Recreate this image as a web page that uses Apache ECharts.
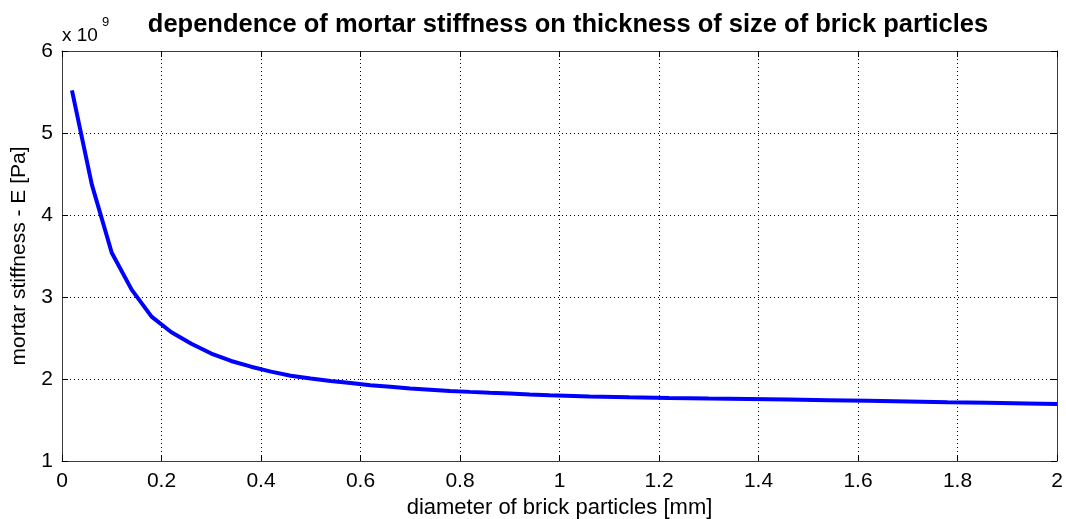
<!DOCTYPE html>
<html>
<head>
<meta charset="utf-8">
<script src="https://cdn.jsdelivr.net/npm/echarts@6/dist/echarts.min.js"></script>
<style>
  html, body { margin: 0; padding: 0; background: #fff; }
  #chart { width: 1066px; height: 519px; }
</style>
</head>
<body>
<div id="chart"></div>
<script>
// diameter of brick particles [mm]
var diameter = [0.02, 0.06, 0.10, 0.14, 0.18, 0.22, 0.26, 0.30, 0.34, 0.38,
                0.42, 0.46, 0.50, 0.54, 0.58, 0.62, 0.66, 0.70, 0.74, 0.78,
                0.82, 0.86, 0.90, 0.94, 0.98, 1.06, 1.14, 1.22, 1.30, 1.38,
                1.46, 1.54, 1.62, 1.70, 1.78, 1.86, 1.94, 2.00];
// mortar stiffness E, in units of 1e9 Pa
var stiffness = [5.52, 4.37, 3.54, 3.09, 2.76, 2.57, 2.43, 2.31, 2.22, 2.15,
                 2.09, 2.04, 2.005, 1.975, 1.95, 1.925, 1.905, 1.885, 1.87, 1.855,
                 1.843, 1.832, 1.822, 1.812, 1.803, 1.788, 1.777, 1.768, 1.761, 1.755,
                 1.749, 1.742, 1.735, 1.726, 1.716, 1.709, 1.701, 1.695];

var chart = echarts.init(document.getElementById('chart'));
var font = 'Liberation Sans, Arial, sans-serif';

var dotted = { show: true, lineStyle: { color: '#000', type: [1, 3], width: 1 } };
var boxLine = { show: true, onZero: false, lineStyle: { color: '#3c3c3c', width: 1 } };
var inTick = { show: true, inside: true, length: 6, lineStyle: { color: '#000' } };

var option = {
  backgroundColor: '#fff',
  animation: false,
  title: {
    text: 'dependence of mortar stiffness on thickness of size of brick particles',
    left: 563, top: 7, textAlign: 'center',
    textStyle: { fontFamily: font, fontSize: 25.5, fontWeight: 'bold', color: '#000' }
  },
  grid: { left: 62, top: 51, right: 9, bottom: 58, containLabel: false, outerBoundsMode: 'none' },
  xAxis: [
    {
      type: 'value', min: 0, max: 2, interval: 0.2, position: 'bottom',
      name: 'diameter of brick particles [mm]', nameLocation: 'middle', nameGap: 36,
      nameTextStyle: { fontFamily: font, fontSize: 22, color: '#000' },
      axisLine: boxLine, axisTick: inTick, splitLine: dotted,
      axisLabel: { fontFamily: font, fontSize: 21, color: '#000', margin: 10,
        formatter: function (v) { return String(+v.toFixed(1)); } }
    },
    {
      type: 'value', min: 0, max: 2, interval: 0.2, position: 'top',
      axisLine: boxLine, axisTick: inTick, splitLine: { show: false },
      axisLabel: { show: false }
    }
  ],
  yAxis: [
    {
      type: 'value', min: 1, max: 6, interval: 1, position: 'left',
      name: 'mortar stiffness - E [Pa]', nameLocation: 'middle', nameGap: 32,
      nameTextStyle: { fontFamily: font, fontSize: 21, color: '#000' },
      axisLine: boxLine, axisTick: inTick, splitLine: dotted,
      axisLabel: { fontFamily: font, fontSize: 21, color: '#000', margin: 9 }
    },
    {
      type: 'value', min: 1, max: 6, interval: 1, position: 'right',
      axisLine: boxLine, axisTick: inTick, splitLine: { show: false },
      axisLabel: { show: false }
    }
  ],
  graphic: [
    {
      type: 'text', left: 62, top: 26,
      style: { text: 'x 10', fontFamily: font, fontSize: 19, fill: '#000' }
    },
    {
      type: 'text', left: 102, top: 16,
      style: { text: '9', fontFamily: font, fontSize: 13, fill: '#000' }
    }
  ],
  series: [
    {
      type: 'line',
      data: diameter.map(function (d, i) { return [d, stiffness[i]]; }),
      showSymbol: false,
      lineStyle: { color: '#0000ff', width: 4 },
      z: 5
    }
  ]
};
chart.setOption(option);
</script>
</body>
</html>
